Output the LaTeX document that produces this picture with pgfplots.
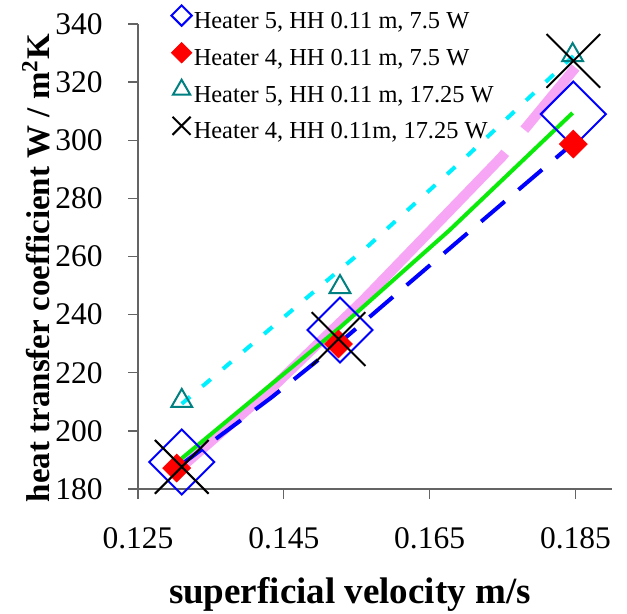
\documentclass[border=0pt]{standalone}
\usepackage{pgfplots}
\pgfplotsset{compat=1.18}
\usepackage{fontspec}
\setmainfont{Liberation Serif}

\definecolor{axgray}{RGB}{100,100,100}
\definecolor{tealm}{RGB}{0,128,128}
\definecolor{trendcyan}{RGB}{0,240,255}
\definecolor{trendgreen}{RGB}{10,235,10}
\definecolor{trendpink}{RGB}{247,165,245}

% small marks in the legend, large ones in the plot
\pgfplotsset{
  legmark/.style={legend image code/.code={%
    \draw[mark repeat=2,mark phase=2,##1,mark size=#1]
      plot coordinates {(0pt,3.5pt)(6pt,3.5pt)(12pt,3.5pt)};}},
}

\begin{document}
\begin{tikzpicture}
\begin{axis}[
  scale only axis,
  width=237pt, height=232.5pt,
  xmin=0.125, xmax=0.19,
  ymin=180, ymax=340,
  clip=false,
  axis lines=left,
  axis line style={-, axgray, line width=0.65pt},
  tick align=outside,
  major tick length=5pt,
  tick style={axgray, line width=0.65pt},
  xtick={0.125,0.145,0.165,0.185},
  xticklabels={0.125,0.145,0.165,0.185},
  ytick={180,200,220,240,260,280,300,320,340},
  yticklabels={180,200,220,240,260,280,300,320,340},
  ticklabel style={font=\fontsize{15.75}{18}\selectfont, inner sep=0pt},
  xticklabel style={anchor=north, yshift=-14pt},
  yticklabel style={anchor=east, xshift=-12.5pt},
  xlabel={superficial velocity m/s},
  ylabel={heat transfer coefficient W / m\textsuperscript{2}K},
  xlabel style={at={(axis description cs:0.447,-0.2452)}, anchor=base,
    font=\fontsize{18.5}{20}\selectfont\bfseries},
  ylabel style={at={(axis description cs:-0.1860,0.475)}, anchor=base,
    font=\fontsize{16.5}{18}\selectfont\bfseries},
  legend style={draw=none, fill=none, at={(axis description cs:0.057,1.0495)},
    anchor=north west, font=\fontsize{12.2}{14}\selectfont,
    row sep=4pt, column sep=1pt,
    nodes={inner sep=0pt, text height=9pt, text depth=3pt}},
  legend cell align=left,
]
\coordinate (o) at (rel axis cs:0,0);

% measured points
\addplot[only marks, blue, mark=square, mark size=11.5pt,
  mark options={rotate=45, line width=1pt}, legmark=3.6pt]
  coordinates {(0.131,189.3) (0.1527,234.7) (0.1847,309.0)};
\addlegendentry{Heater 5, HH 0.11 m, 7.5 W}
\addplot[only marks, red, mark=square*, mark size=4.9pt,
  mark options={rotate=45}, legmark=3.6pt]
  coordinates {(0.1303,187.2) (0.1525,229.9) (0.1847,298.7)};
\addlegendentry{Heater 4, HH 0.11 m, 7.5 W}
\addplot[only marks, tealm, mark=triangle, mark size=6pt,
  mark options={line width=1pt}, legmark=5pt]
  coordinates {(0.131,210.3) (0.1527,249.5) (0.1846,329.3)};
\addlegendentry{Heater 5, HH 0.11 m, 17.25 W}
\addplot[only marks, black, mark=x, mark size=19pt,
  mark options={line width=1pt}, legmark=6.4pt]
  coordinates {(0.131,187.6) (0.1525,231.6) (0.1847,327.3)};
\addlegendentry{Heater 4, HH 0.11m, 17.25 W}

% trend lines
\addplot[forget plot, trendpink, line width=5pt, dash pattern=on 228pt off 15pt]
  coordinates {(0.1305,186.5) (0.1431,214.1) (0.1559,245.0) (0.1749,294.3) (0.1850,325.0)};
\addplot[forget plot, blue, line width=2pt, dash pattern=on 15.5pt off 9pt]
  coordinates {(0.1303,187.2) (0.1432,211.3) (0.1525,230.0) (0.1588,243.6)
               (0.1691,265.7) (0.1793,287.5) (0.1846,298.8)};
\addplot[forget plot, trendgreen, line width=2pt]
  coordinates {(0.1305,189.5) (0.1527,235.6) (0.1677,269.0) (0.1846,309.4)};
\addplot[forget plot, trendcyan, line width=2pt, dash pattern=on 5.5pt off 8pt]
  coordinates {(0.131,209.3) (0.1527,255.5) (0.1562,262.8) (0.1698,293.8) (0.1847,329.0)};
\end{axis}
\pgfresetboundingbox
\useasboundingbox ([shift={(-69pt,-62.5pt)}]o) rectangle ([shift={(244.5pt,244.5pt)}]o);
\end{tikzpicture}
\end{document}
